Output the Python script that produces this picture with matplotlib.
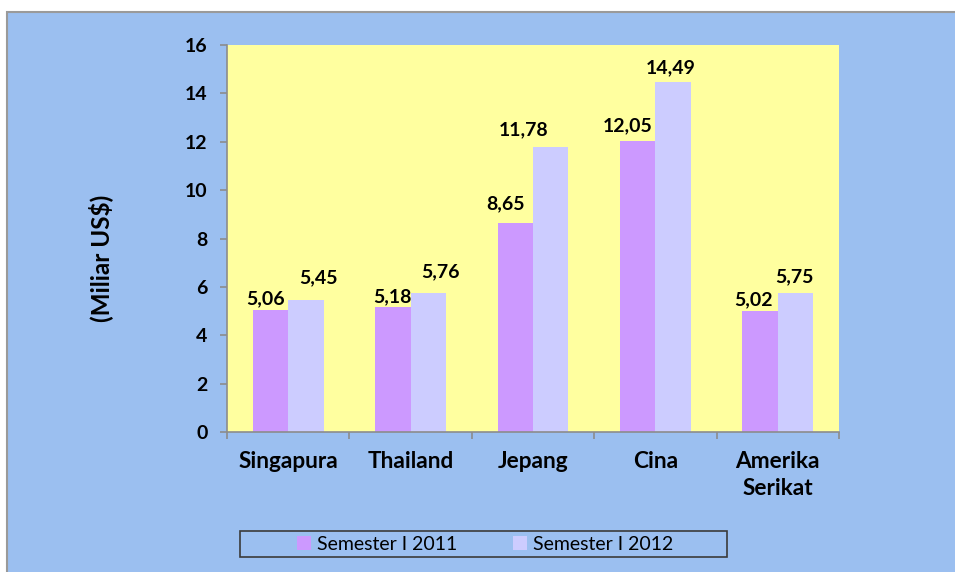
import matplotlib
matplotlib.use("Agg")
import matplotlib.pyplot as plt
from matplotlib.patches import Rectangle, Patch
import numpy as np

plt.rcParams['font.family'] = ['Lato', 'DejaVu Sans']

countries = ["Singapura", "Thailand", "Jepang", "Cina", "Amerika\nSerikat"]
sem_2011 = [5.06, 5.18, 8.65, 12.05, 5.02]
sem_2012 = [5.45, 5.76, 11.78, 14.49, 5.75]
series_names = ["Semester I 2011", "Semester I 2012"]

# label nudges in pixels (dx, gap above bar)
nudge_2011 = [(-5, 5), (-1, 4), (-10, 14), (-10, 9), (-7, 5)]
nudge_2012 = [(13, 17), (12, 15), (-27, 12), (-2, 8), (-1, 11)]

bg_blue = "#9BBFF0"
plot_yellow = "#FFFF9F"
c2011 = "#CC99FF"
c2012 = "#CCCCFF"
grey = "#8C8C8C"

fig = plt.figure(figsize=(9.55, 5.72), dpi=100, facecolor="white")
W, H = 955, 572

# chart area with thin grey border
fig.patches.append(Rectangle((7 / W, -0.05), 1.1, 1 - 11.5 / H + 0.05,
                             transform=fig.transFigure, facecolor=bg_blue,
                             edgecolor="#9A9A9A", linewidth=1.5, zorder=-5))

ax = fig.add_axes([227 / W, 1 - 432 / H, (839 - 227) / W, (432 - 45) / H])
ax.set_facecolor(plot_yellow)

x = np.arange(len(countries))
w = 0.289
b1 = ax.bar(x - w / 2, sem_2011, w, color=c2011, zorder=2)
b2 = ax.bar(x + w / 2, sem_2012, w, color=c2012, zorder=2)

for bars, vals, nudges in [(b1, sem_2011, nudge_2011), (b2, sem_2012, nudge_2012)]:
    for bar, v, (dx, dy) in zip(bars, vals, nudges):
        ax.annotate(f"{v:.2f}".replace(".", ","),
                    (bar.get_x() + bar.get_width() / 2, bar.get_height()),
                    xytext=(dx, dy), textcoords="offset pixels",
                    ha="center", va="baseline", fontsize=14, fontweight="bold")

ax.set_xlim(-0.5, len(countries) - 0.5)
ax.set_ylim(0, 16)
ax.set_yticks(np.arange(0, 17, 2))
ax.tick_params(axis="y", length=5, width=1.2, color=grey, pad=9,
               labelsize=14)
for lab in ax.get_yticklabels():
    lab.set_fontweight("bold")

ax.set_xticks(x)
ax.set_xticklabels(countries, fontsize=16.3, fontweight="bold", linespacing=1.3)
ax.tick_params(axis="x", length=0, pad=14)
ax.set_xticks(np.arange(-0.5, len(countries), 1), minor=True)
ax.tick_params(axis="x", which="minor", length=5, width=1.2, color=grey)

for s in ["top", "right"]:
    ax.spines[s].set_visible(False)
for s in ["left", "bottom"]:
    ax.spines[s].set_color(grey)
    ax.spines[s].set_linewidth(1.2)

fig.text(101 / W, 1 - 258 / H, "(Miliar US$)", rotation=90, ha="center",
         va="center", fontsize=17.5, fontweight="bold")

# legend box
fig.patches.append(Rectangle((240 / W, 1 - 557 / H), (727 - 240) / W, 26 / H,
                             transform=fig.transFigure, facecolor="none",
                             edgecolor="#3A3A3A", linewidth=1.2, zorder=3))
handles = [Patch(facecolor=c2011), Patch(facecolor=c2012)]
fig.legend(handles, series_names, loc="center", bbox_to_anchor=(485 / W, 1 - 544 / H),
           ncol=2, frameon=False, fontsize=14, handlelength=0.7, handleheight=0.7,
           handletextpad=0.3, columnspacing=2.9)

fig.savefig("out.png", dpi=100, facecolor=fig.get_facecolor())
